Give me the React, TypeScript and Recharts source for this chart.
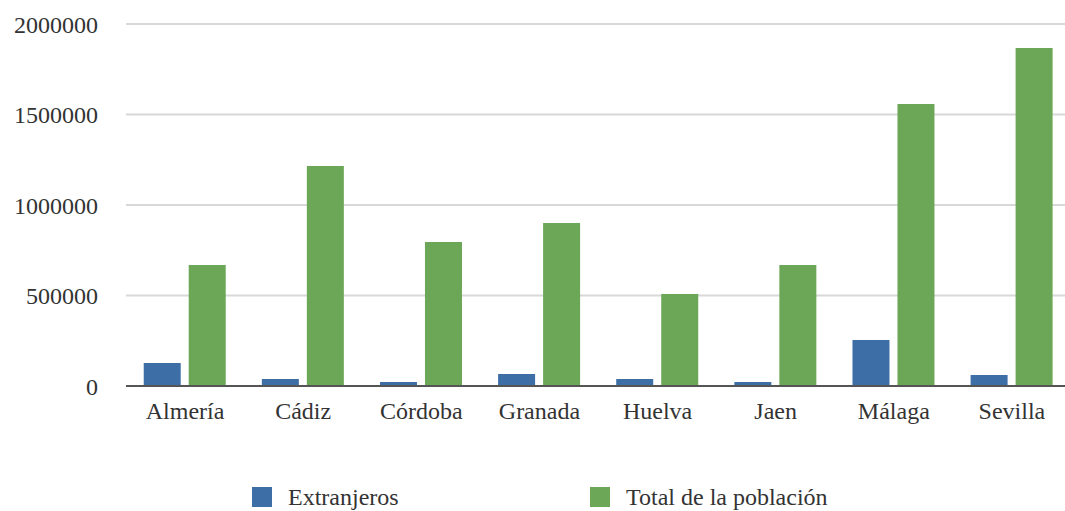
import React from "react";
import { BarChart, Bar, XAxis, YAxis, CartesianGrid, Legend } from "recharts";

const provinces = ["Almería", "Cádiz", "Córdoba", "Granada", "Huelva", "Jaen", "Málaga", "Sevilla"];
const extranjeros = [127000, 39000, 22000, 66000, 39000, 22000, 254000, 61000];
const totalPoblacion = [668000, 1215000, 796000, 900000, 508000, 668000, 1558000, 1867000];
const yTicks = [0, 500000, 1000000, 1500000, 2000000];

const data = provinces.map((p, i) => ({
  name: p,
  extranjeros: extranjeros[i],
  total: totalPoblacion[i],
}));

const FONT = '"Liberation Serif", "DejaVu Serif", "Times New Roman", serif';
const BLUE = "#3d6ea6";
const GREEN = "#6ba756";
const TEXT = "#333333";

const legendX = [252, 590];

const renderLegend = (props: any) => {
  const payload = props.payload || [];
  return (
    <div style={{ position: "relative", height: 24, width: 1065 }}>
      {payload.map((entry: any, i: number) => (
        <div
          key={entry.value}
          style={{
            position: "absolute",
            left: legendX[i],
            top: 0,
            display: "flex",
            alignItems: "center",
            height: 22,
          }}
        >
          <div style={{ width: 20, height: 20, background: entry.color, marginRight: 16 }} />
          <span style={{ fontFamily: FONT, fontSize: 24, color: TEXT, lineHeight: "22px", whiteSpace: "nowrap" }}>
            {entry.value}
          </span>
        </div>
      ))}
    </div>
  );
};

export default function App() {
  return (
    <div style={{ width: 1065, height: 511, overflow: "hidden", position: "relative", background: "#fff" }}>
      <style>{`body{margin:0;background:#fff;}`}</style>
      <BarChart
        width={1071}
        height={511}
        data={data}
        margin={{ top: 24, right: 0, bottom: 71, left: 0 }}
        barCategoryGap="15%"
        barGap={8}
      >
        <CartesianGrid vertical={false} stroke="#d8d8d8" strokeWidth={2} />
        <XAxis
          dataKey="name"
          axisLine={{ stroke: "#555", strokeWidth: 2 }}
          tickLine={false}
          tickSize={0}
          tickMargin={16}
          tick={{ fontFamily: FONT, fontSize: 24, fill: TEXT }}
          interval={0}
        />
        <YAxis
          width={126}
          domain={[0, 2000000]}
          ticks={yTicks}
          axisLine={false}
          tickLine={false}
          tickSize={0}
          tickMargin={28}
          tick={{ fontFamily: FONT, fontSize: 24, fill: TEXT }}
        />
        <Legend
          content={renderLegend}
          wrapperStyle={{ position: "absolute", left: 0, top: 486, width: 1065 }}
        />
        <Bar dataKey="extranjeros" name="Extranjeros" fill={BLUE} isAnimationActive={false} />
        <Bar dataKey="total" name="Total de la población" fill={GREEN} isAnimationActive={false} />
      </BarChart>
    </div>
  );
}
